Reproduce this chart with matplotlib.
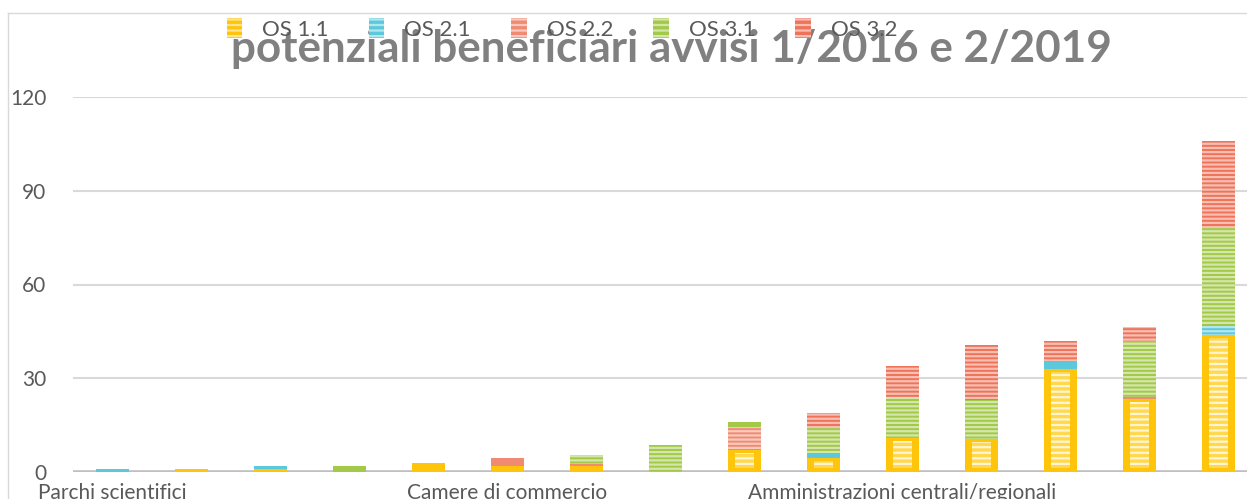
import numpy as np
import matplotlib.pyplot as plt
from matplotlib.patches import Patch
from matplotlib.lines import Line2D

# data
categories = ["Parchi scientifici", "", "", "", "", "Camere di commercio", "", "", "", "",
              "Amministrazioni centrali/regionali", "", "", "", ""]
series = ["OS 1.1", "OS 2.1", "OS 2.2", "OS 3.1", "OS 3.2"]
os11 = [0, 1, 1, 0, 3, 2, 2, 0, 7, 4.5, 11, 10.5, 33, 23.5, 44]
os21 = [1, 0, 1, 0, 0, 0, 0, 0, 0, 1.5, 0, 0, 2.5, 0, 3]
os22 = [0, 0, 0, 0, 0, 2.5, 0.5, 0, 7.5, 0, 0, 0, 0, 0.5, 0]
os31 = [0, 0, 0, 2, 0, 0, 3, 8.5, 1.5, 8, 13, 12.5, 0, 18, 31]
os32 = [0, 0, 0, 0, 0, 0, 0, 0, 0, 5, 10, 17.5, 6.5, 4.5, 28]
title = "potenziali beneficiari avvisi 1/2016 e 2/2019"

colors = ["#FFC40C", "#5BC9DB", "#F08A72", "#A2C947", "#EE7358"]
stripe = (1, 1, 1, 0.55)

plt.rcParams['font.family'] = ['Lato', 'DejaVu Sans']
plt.rcParams['hatch.linewidth'] = 1.6

fig = plt.figure(figsize=(12.47, 4.99), dpi=100)
ax = fig.add_axes([73 / 1247, 1 - 472 / 499, (1258 - 73) / 1247, (472 - 97) / 499])

x = np.arange(len(categories))
w = 0.42
data = [os11, os21, os22, os31, os32]
bottom = np.zeros(len(categories))
for k, vals in enumerate(data):
    for i, v in enumerate(vals):
        if v <= 0:
            continue
        if k == 0:
            ax.bar(x[i], v, w, bottom=bottom[i], color=colors[k], linewidth=0, zorder=3)
            if v > 4:
                # inner striped panel of the yellow picture fill
                ax.bar(x[i], v - 2.2, w * 0.6, bottom=bottom[i] + 1.2, color="#FFD84E",
                       edgecolor=(1, 1, 1, 0.75), hatch='---', linewidth=0, zorder=3)
        else:
            ax.bar(x[i], v, w, bottom=bottom[i], color=colors[k],
                   hatch='----' if v > 2.8 else None, edgecolor=stripe,
                   linewidth=0, zorder=3)
    bottom += np.array(vals)

ax.set_xlim(-0.5, 14.5)
ax.set_ylim(0, 120)
ax.set_yticks([0, 30, 60, 90, 120])
ax.set_xticks(x)
ax.set_xticklabels(categories)
ax.grid(axis='y', color='#D9D9D9', linewidth=1.5, zorder=0)
ax.set_axisbelow(True)
for s in ax.spines.values():
    s.set_visible(False)
ax.axhline(0, color='#BFBFBF', linewidth=2.6, zorder=2)
ax.tick_params(axis='y', length=0, pad=19, labelsize=15, labelcolor='#595959')
ax.tick_params(axis='x', length=0, pad=8, labelsize=15, labelcolor='#595959')

fig.text(671 / 1247, 1 - 49 / 499, title, ha='center', va='center',
         fontsize=31.7, fontweight='bold', color='#808080')

handles = []
for k in range(5):
    handles.append(Patch(facecolor=colors[k], edgecolor=stripe, hatch='---', linewidth=0))
fig.legend(handles, series, loc='center', bbox_to_anchor=(562 / 1247, 1 - 29 / 499),
           ncol=5, frameon=False, fontsize=16, handlelength=0.7, handleheight=1.0,
           handletextpad=0.9, columnspacing=1.8, labelcolor='#595959')

# chart area border
fig.add_artist(Line2D([8 / 1247, 8 / 1247], [0, 1 - 13 / 499], color='#D9D9D9', lw=1))
fig.add_artist(Line2D([8 / 1247, 1], [1 - 13 / 499, 1 - 13 / 499], color='#D9D9D9', lw=1))

fig.savefig("out.png", dpi=100)
